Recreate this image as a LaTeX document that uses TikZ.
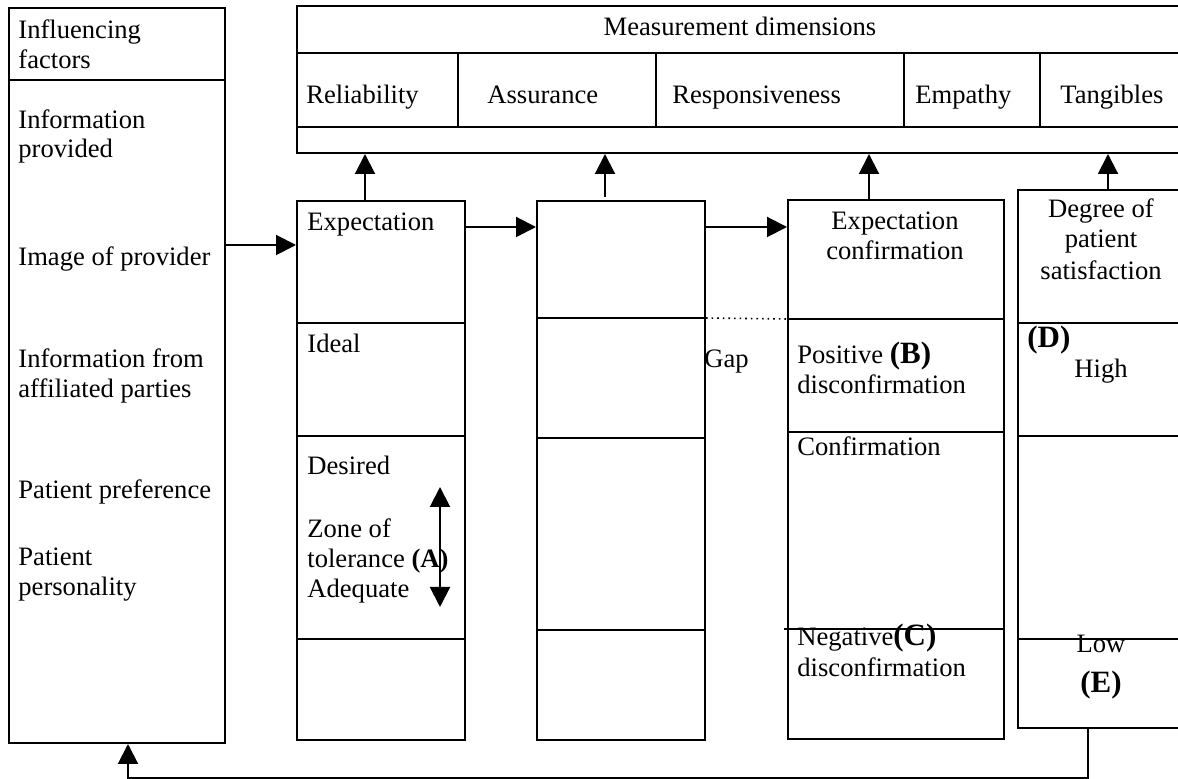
\documentclass[tikz,border=0pt]{standalone}
\usepackage{fontspec}
\setmainfont{Liberation Serif}
\usetikzlibrary{arrows.meta}
\newcommand\fsz{\fontsize{13.3}{15}\selectfont}
\newcommand\biglab[1]{{\fontsize{15.5}{17}\selectfont\bfseries #1}}
\tikzset{
  box/.style={draw, line width=1pt, inner sep=0pt, anchor=north west},
  lbl/.style={inner sep=0pt, font=\fsz},
  lw/.style={lbl, anchor=base west},
  lc/.style={lbl, anchor=base},
  conn/.style={line width=1pt},
  tip/.style={conn, -{Triangle[width=10pt,length=10pt]}},
  dtip/.style={conn, {Triangle[width=10pt,length=10pt]}-{Triangle[width=10pt,length=10pt]}},
}
\begin{document}
\begin{tikzpicture}[x=0.5pt,y=-0.5pt]
\useasboundingbox (0,0) rectangle (1178,779);
\clip (0,0) rectangle (1178,779);
% boxes
\node[box, minimum width=108pt, minimum height=367.5pt] (left) at (8,7) {};
\node[box, minimum width=447pt, minimum height=73.5pt] (top) at (296,5) {};
\node[box, minimum width=84pt, minimum height=269.5pt] (b1) at (296,200) {};
\node[box, minimum width=84pt, minimum height=269.5pt] (b2) at (536,200) {};
\node[box, minimum width=108pt, minimum height=269.5pt] (b3) at (787,199) {};
\node[box, minimum width=86.5pt, minimum height=269pt] (b4) at (1017,189) {};
% dividers
\draw[conn] (left.west |- 0,80) -- (left.east |- 0,80);
\draw[conn] (top.west |- 0,53) -- (top.east |- 0,53);
\draw[conn] (top.west |- 0,127) -- (top.east |- 0,127);
\foreach \x in {458,656,904,1040} \draw[conn] (\x,53) -- (\x,127);
\foreach \y in {323,436,639} \draw[conn] (b1.west |- 0,\y) -- (b1.east |- 0,\y);
\foreach \y in {318,438,630} \draw[conn] (b2.west |- 0,\y) -- (b2.east |- 0,\y);
\foreach \y in {319,432} \draw[conn] (b3.west |- 0,\y) -- (b3.east |- 0,\y);
\draw[conn] (784,629) -- (b3.east |- 0,629);
\foreach \y in {323,436,639} \draw[conn] (b4.west |- 0,\y) -- (b4.east |- 0,\y);
\draw[line width=0.8pt, dotted] (b2.east |- 0,318) -- (b3.west |- 0,319);
% texts left
\node[lw] (t1) at (18,39) {Influencing};
\node[lw] (t2) at (18,69) {factors};
\node[lw] (t3) at (18,129) {Information};
\node[lw] (t4) at (18,158) {provided};
\node[lw] (t5) at (18,266) {Image of provider};
\node[lw] (t6) at (18,368) {Information from};
\node[lw] (t7) at (18,398) {affiliated parties};
\node[lw] (t8) at (18,499) {Patient preference};
\node[lw] (t9) at (18,566) {Patient};
\node[lw] (t10) at (18,596) {personality};
% top texts
\node[lc] (m0) at (740,36) {Measurement dimensions};
\node[lw] (m1) at (306,104) {Reliability};
\node[lw] (m2) at (487,104) {Assurance};
\node[lw] (m3) at (672,104) {Responsiveness};
\node[lw] (m4) at (915,104) {Empathy};
\node[lw] (m5) at (1060,104) {Tangibles};
% box1 texts
\node[lw] (e1) at (307,231) {Expectation};
\node[lw] (e2) at (307,353) {Ideal};
\node[lw] (e3) at (307,475) {Desired};
\node[lw] (e4) at (307,538) {Zone of};
\node[lw] (e5) at (307,568) {tolerance {\bfseries (A)}};
\node[lw] (e6) at (307,598) {Adequate};
\node[lw] (gap) at (704,368) {Gap};
% box3 texts
\node[lc] (c1) at (895,230) {Expectation};
\node[lc] (c2) at (895,260) {confirmation};
\node[lw] (c3) at (797,364) {Positive \biglab{(B)}};
\node[lw] (c4) at (797,394) {disconfirmation};
\node[lw] (c5) at (797,456) {Confirmation};
\node[lw] (c6) at (797,646) {Negative\biglab{(C)}};
\node[lw] (c7) at (797,677) {disconfirmation};
% box4 texts
\node[lc] (s1) at (1101,218) {Degree of};
\node[lc] (s2) at (1101,248) {patient};
\node[lc] (s3) at (1101,280) {satisfaction};
\node[lw] (s4) at (1027,348) {\biglab{(D)}};
\node[lc] (s5) at (1101,378) {High};
\node[lc] (s6) at (1101,653) {Low};
\node[lc] (s7) at (1101,693) {\biglab{(E)}};
% arrows
\draw[tip] (left.east |- 0,245) -- (b1.west |- 0,245);
\draw[tip] (b1.east |- 0,227) -- (b2.west |- 0,227);
\draw[tip] (b2.east |- 0,227) -- (b3.west |- 0,227);
\draw[tip] (b1.north -| 365,0) -- (top.south -| 365,0);
\draw[tip] (605,197) -- (top.south -| 605,0);
\draw[tip] (b3.north -| 869,0) -- (top.south -| 869,0);
\draw[tip] (b4.north -| 1108,0) -- (top.south -| 1108,0);
\coordinate (z1) at (440,487);
\coordinate (z2) at (440,607);
\draw[dtip] (z1) -- (z2);
\coordinate (fb1) at (1088,778);
\coordinate (fb2) at (128,778);
\draw[tip] (b4.south -| 1088,0) -- (fb1) -- (fb2) -- (left.south -| 128,0);
\end{tikzpicture}
\end{document}
